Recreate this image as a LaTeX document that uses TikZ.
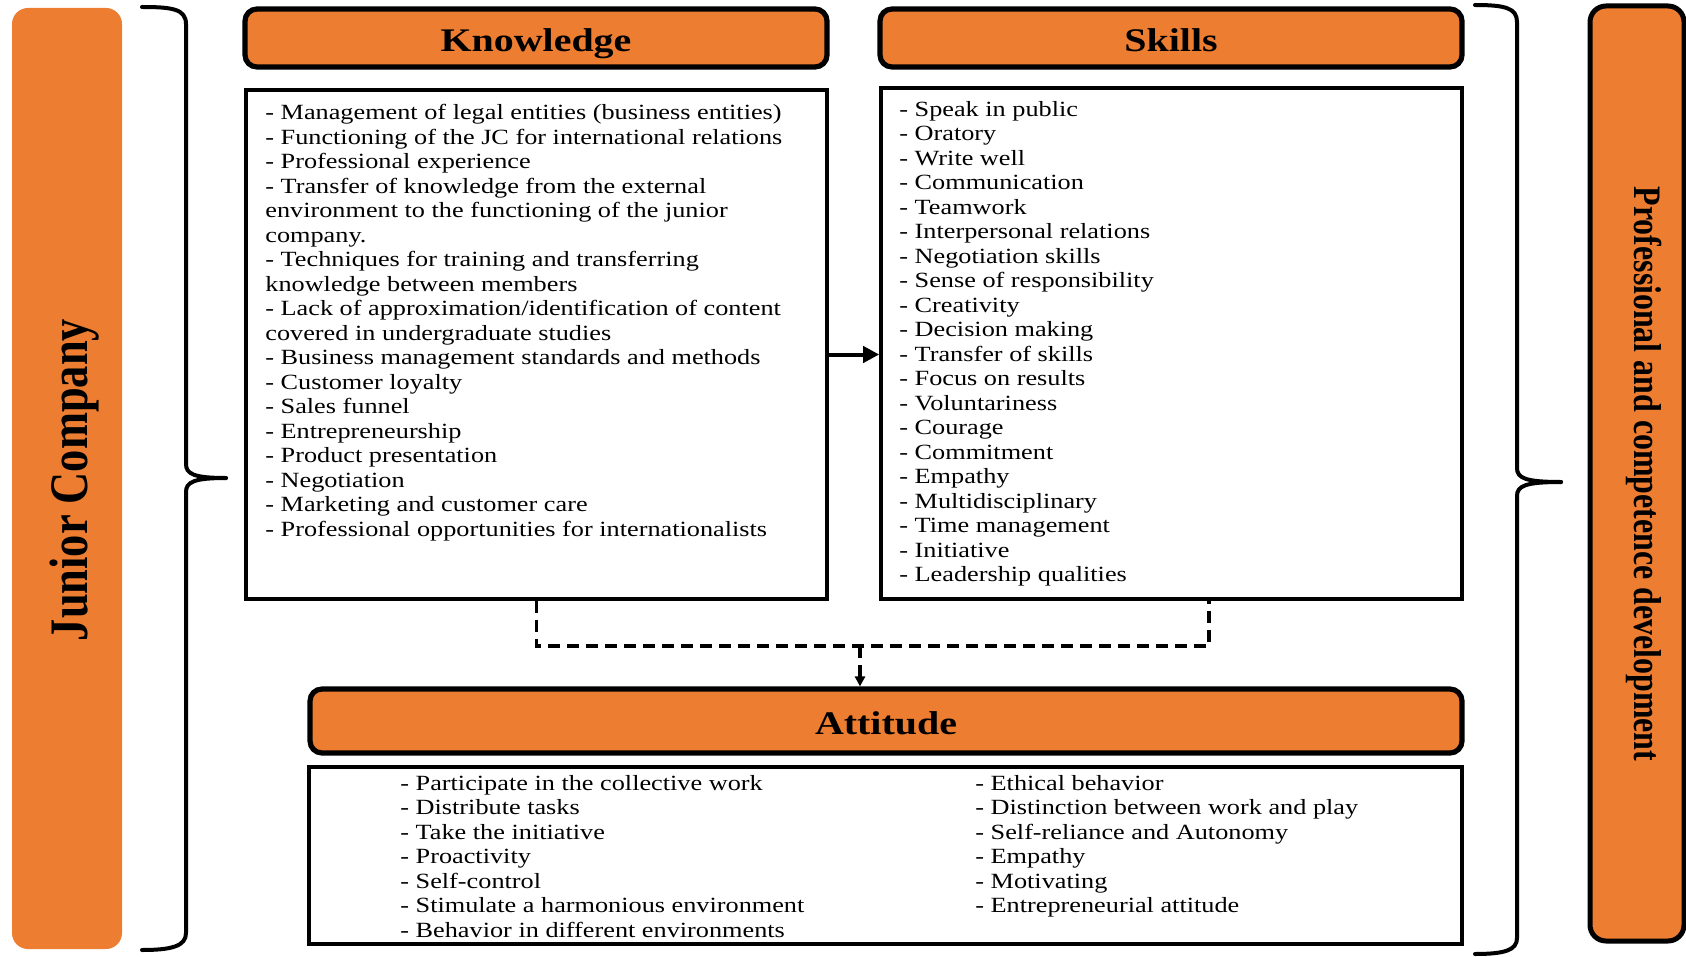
\documentclass[tikz,border=0pt]{standalone}
\usepackage{fontspec}
\setmainfont[FakeStretch=1.21]{Liberation Serif}
\newfontfamily\rotfont[FakeStretch=0.82]{Liberation Serif}
\usetikzlibrary{arrows.meta}
\definecolor{jcorange}{HTML}{ED7D31}
\begin{document}
\begin{tikzpicture}[x=0.5pt,y=0.5pt,
  hdr/.style={draw=black, line width=2.6pt, fill=jcorange, rounded corners=6pt, inner sep=0pt, text height=14pt, text depth=0.6pt, font=\fontsize{16.5pt}{19pt}\selectfont\bfseries},
  listbox/.style={draw=black, line width=1.8pt, fill=white, inner sep=0pt},
  listtext/.style={anchor=north west, inner sep=0pt, align=left, font=\fontsize{10.85pt}{12.25pt}\selectfont},
  bracepath/.style={line width=2pt, line cap=round},
  conn/.style={line width=2pt, -{Triangle[length=8pt,width=8pt]}},
  dashconn/.style={line width=1.8pt, dash pattern=on 6pt off 3.5pt},
]
\useasboundingbox (0,0) rectangle (1686,-957);

% side bars
\node[fill=jcorange, rounded corners=8pt, minimum width=55pt, minimum height=470.5pt, inner sep=0pt] (jcbar) at (67,-478.5) {};
\node[rotate=90, inner sep=0pt, font=\rotfont\fontsize{27.1pt}{30pt}\selectfont\bfseries] (jctext) at (75,-480) {Junior Company};

\node[draw=black, line width=2.5pt, fill=jcorange, rounded corners=8pt, minimum width=47pt, minimum height=467.5pt, inner sep=0pt] (pcbar) at (1637,-473.5) {};
\node[rotate=-90, inner sep=0pt, font=\rotfont\fontsize{19.45pt}{22pt}\selectfont\bfseries] (pctext) at (1644,-474) {Professional and competence development};

% headers
\node[hdr, minimum width=291pt, minimum height=29pt] (khead) at (536,-38) {Knowledge};
\node[hdr, minimum width=291pt, minimum height=29pt] (shead) at (1171,-38) {Skills};
\node[hdr, minimum width=576pt, minimum height=32pt] (ahead) at (886,-721) {Attitude};

% boxes
\node[listbox, minimum width=290.5pt, minimum height=254.5pt] (kbox) at (536.5,-344.5) {};
\node[listbox, minimum width=290.5pt, minimum height=255.5pt] (sbox) at (1171.5,-343.5) {};
\node[listbox, minimum width=576.5pt, minimum height=88.5pt] (abox) at (885.5,-855.5) {};

% texts
\node[listtext] (ktext) at (265,-104) {- Management of legal entities (business entities)\\
- Functioning of the JC for international relations\\
- Professional experience\\
- Transfer of knowledge from the external\\
environment to the functioning of the junior\\
company.\\
- Techniques for training and transferring\\
knowledge between members\\
- Lack of approximation/identification of content\\
covered in undergraduate studies\\
- Business management standards and methods\\
- Customer loyalty\\
- Sales funnel\\
- Entrepreneurship\\
- Product presentation\\
- Negotiation\\
- Marketing and customer care\\
- Professional opportunities for internationalists};

\node[listtext] (stext) at (899,-101) {- Speak in public\\
- Oratory\\
- Write well\\
- Communication\\
- Teamwork\\
- Interpersonal relations\\
- Negotiation skills\\
- Sense of responsibility\\
- Creativity\\
- Decision making\\
- Transfer of skills\\
- Focus on results\\
- Voluntariness\\
- Courage\\
- Commitment\\
- Empathy\\
- Multidisciplinary\\
- Time management\\
- Initiative\\
- Leadership qualities};

\node[listtext] (atextl) at (400,-775) {- Participate in the collective work\\
- Distribute tasks\\
- Take the initiative\\
- Proactivity\\
- Self-control\\
- Stimulate a harmonious environment\\
- Behavior in different environments};

\node[listtext] (atextr) at (975,-775) {- Ethical behavior\\
- Distinction between work and play\\
- Self-reliance and Autonomy\\
- Empathy\\
- Motivating\\
- Entrepreneurial attitude};

% connectors
\draw[conn] ([yshift=-5pt]kbox.east) -- ([yshift=-5pt]kbox.east -| sbox.west);
\coordinate (jn) at (860,-646);
\draw[dashconn] (kbox.south) |- (jn) -| ([xshift=18.75pt]sbox.south);
\draw[dashconn, -{Triangle[length=5pt,width=5pt]}] (jn) -- (jn |- ahead.north);

% brackets
\draw[bracepath] (142,-7) .. controls (172,-7) and (186,-9) .. (186,-24) -- (186,-464) .. controls (186,-474) and (194,-478) .. (226,-478);
\draw[bracepath] (226,-478) .. controls (194,-478) and (186,-482) .. (186,-492) -- (186,-933) .. controls (186,-946) and (172,-950) .. (142,-950);
\draw[bracepath] (1475,-5) .. controls (1505,-5) and (1517,-8) .. (1517,-22) -- (1517,-468) .. controls (1517,-478) and (1525,-482) .. (1561,-482);
\draw[bracepath] (1561,-482) .. controls (1525,-482) and (1517,-486) .. (1517,-496) -- (1517,-938) .. controls (1517,-950) and (1505,-954) .. (1475,-954);
\end{tikzpicture}
\end{document}
